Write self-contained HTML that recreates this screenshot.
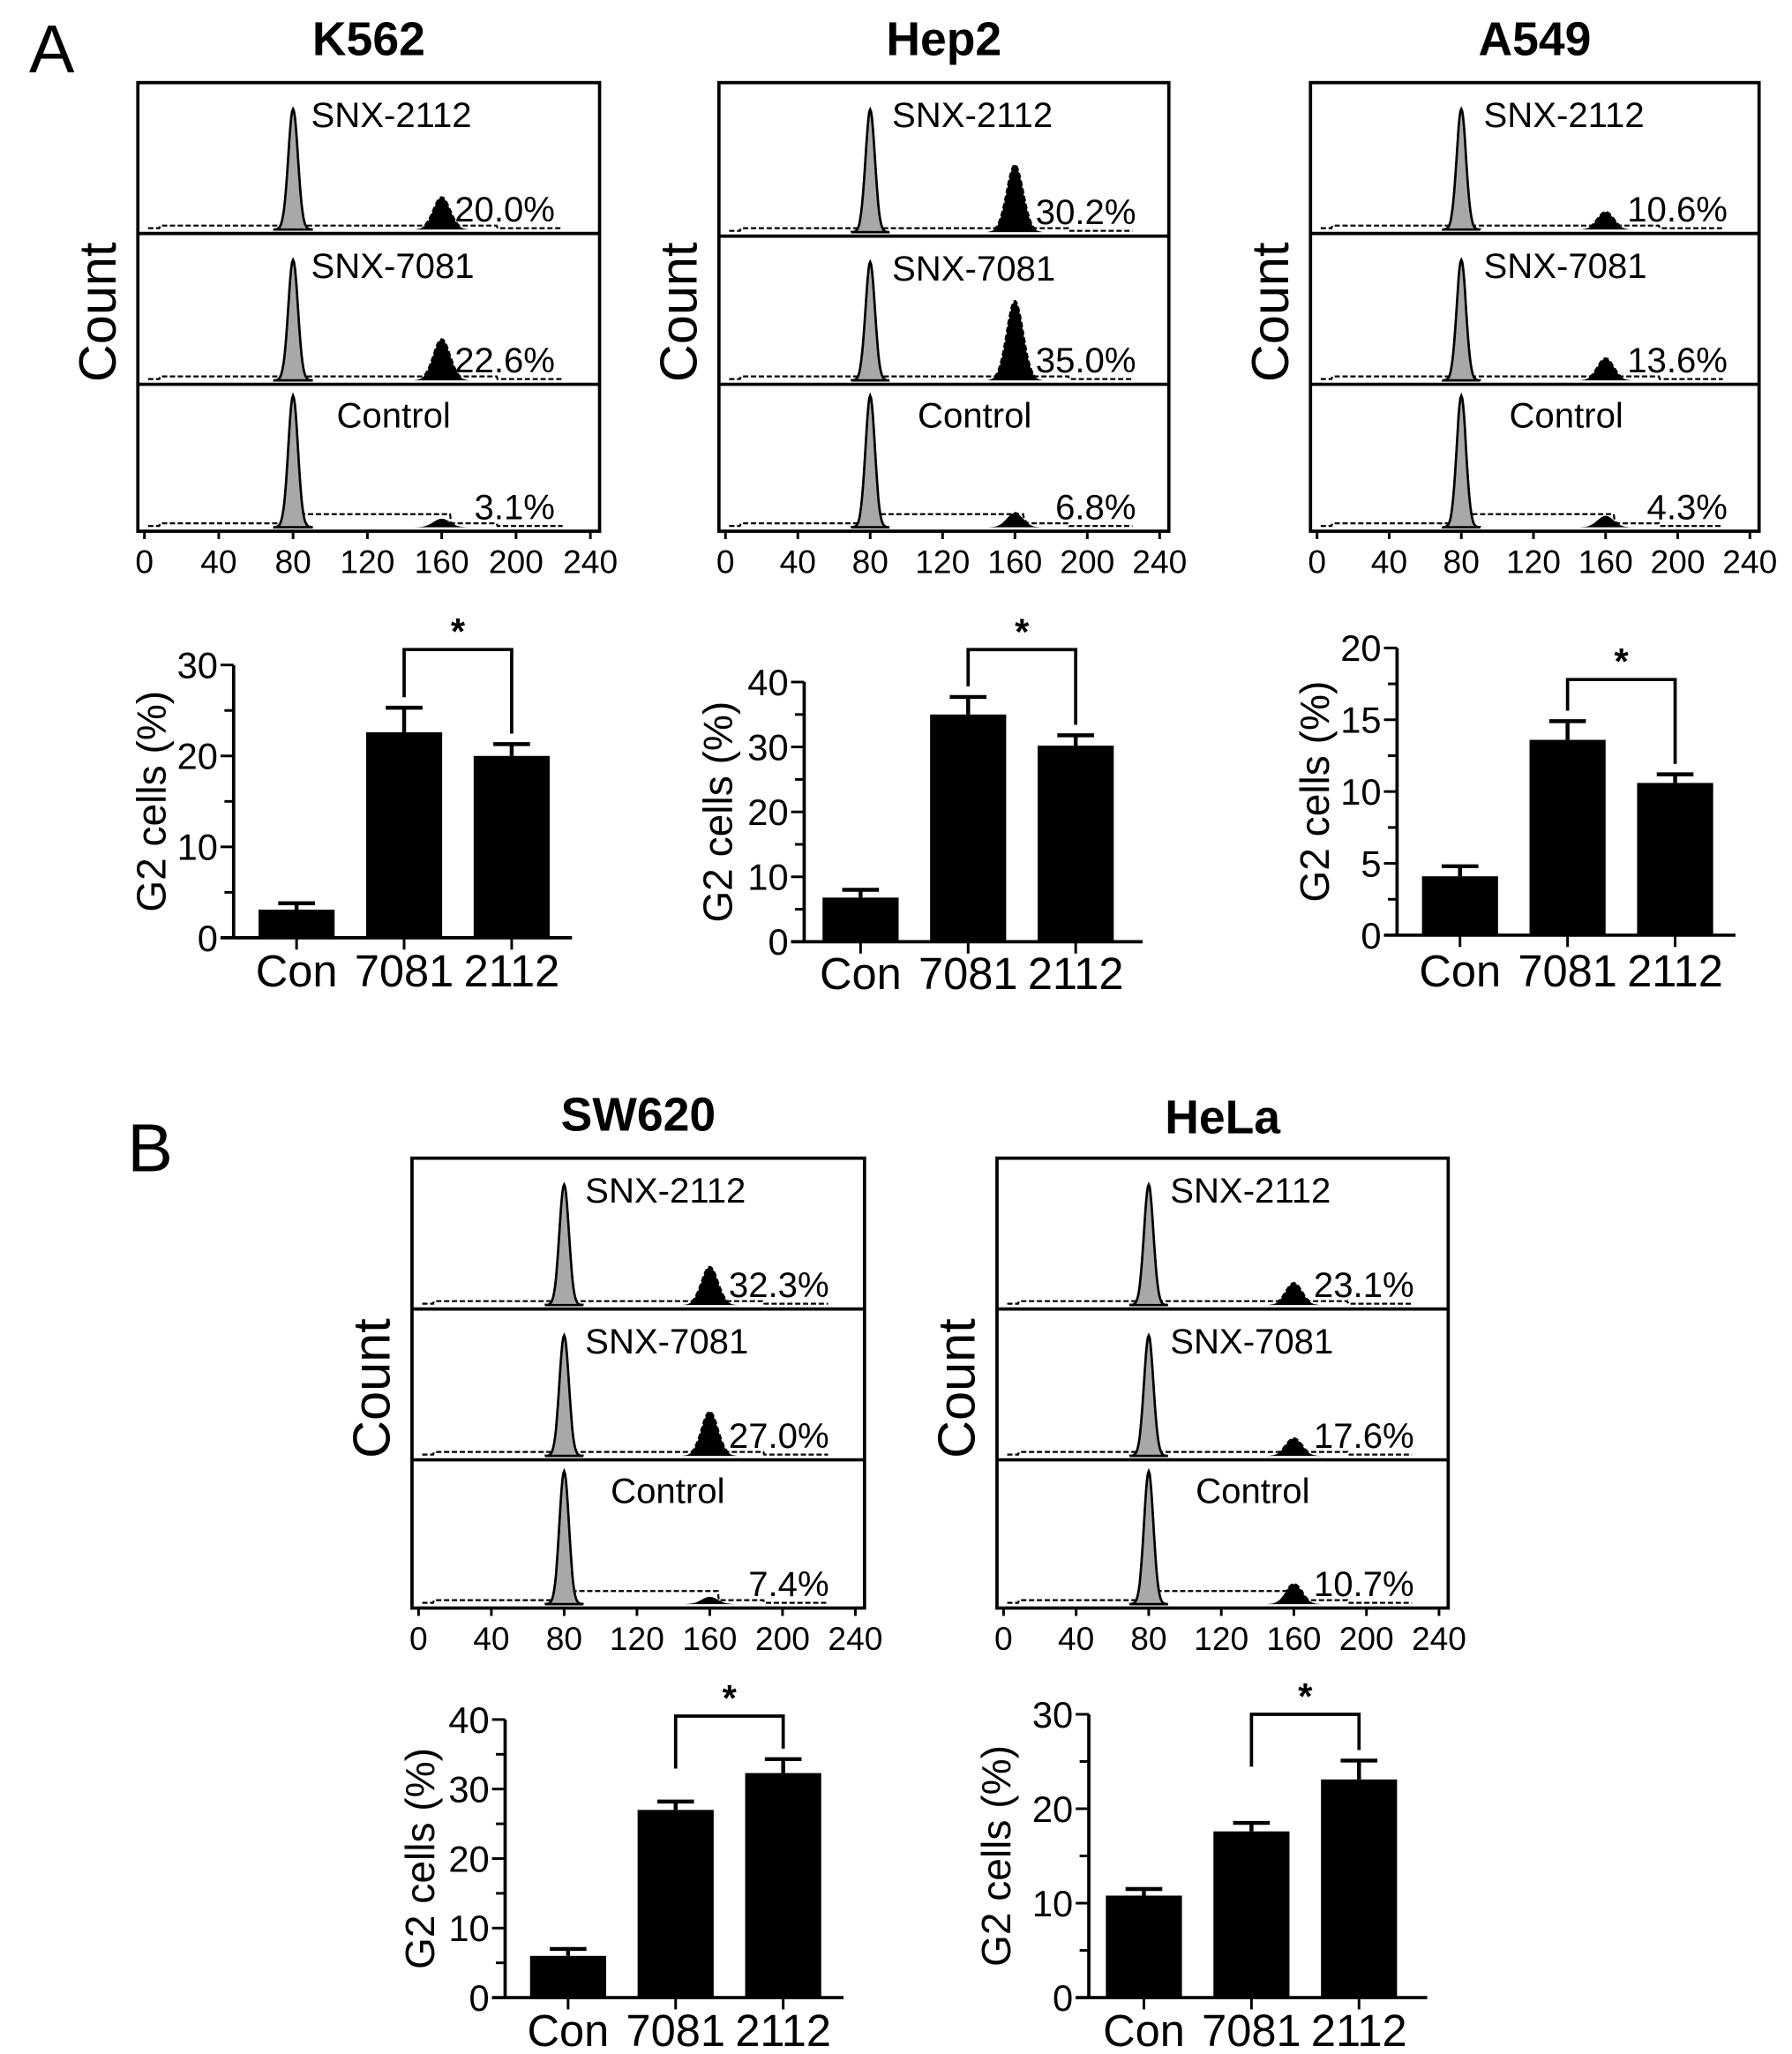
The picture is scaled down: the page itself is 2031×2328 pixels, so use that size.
<!DOCTYPE html>
<html><head><meta charset="utf-8"><style>
html,body{margin:0;padding:0;background:#fff}
svg{display:block}
text{font-family:"Liberation Sans",Arial,sans-serif;fill:#000}
</style></head><body>
<svg id="fig" width="2031" height="2328" viewBox="0 0 1366 1566" xmlns="http://www.w3.org/2000/svg">
<text x="22" y="55" font-size="52">A</text>
<text x="97" y="893" font-size="52">B</text>
</svg>
<script>
// ---- flow histogram data ----
const flowTitles = ["K562","Hep2","A549","SW620","HeLa"];
const flowTreatments = ["SNX-2112","SNX-7081","Control"];
const flowPercents = [["20.0%","22.6%","3.1%"],["30.2%","35.0%","6.8%"],["10.6%","13.6%","4.3%"],["32.3%","27.0%","7.4%"],["23.1%","17.6%","10.7%"]];
const flowG2Heights = [[0.22,0.28,0.06],[0.45,0.55,0.1],[0.12,0.15,0.08],[0.26,0.3,0.05],[0.15,0.12,0.14]];
const flowTicks = [0,40,80,120,160,200,240];
// ---- bar chart data ----
const barCategories = ["Con","7081","2112"];
const barValues = [[3.1,22.6,20.0],[6.8,35.0,30.2],[4.1,13.6,10.6],[6.0,27.0,32.3],[10.8,17.6,23.1]];
const barErrors = [[0.7,2.7,1.3],[1.2,2.7,1.6],[0.7,1.3,0.6],[1.0,1.2,2.0],[0.7,0.9,2.0]];
const barYMax = [30,40,20,40,30];
const barYStep = [10,10,5,10,10];
const bracketValues = [31.7,45.0,17.8,40.5,30.0];

const NS="http://www.w3.org/2000/svg";
const svg=document.getElementById('fig');
function mk(tag,attrs,parent,txt){const e=document.createElementNS(NS,tag);for(const k in attrs)e.setAttribute(k,attrs[k]);if(txt!==undefined)e.textContent=txt;(parent||svg).appendChild(e);return e;}

// layout (not data)
const flowLayout=[
 {l:105,r:457,t:63,b:405,d:[178,293],ty:42},
 {l:548,r:891,t:63,b:405,d:[180,293],ty:42},
 {l:999,r:1341,t:63,b:405,d:[178,293],ty:42},
 {l:314,r:659,t:883,b:1226,d:[998,1113],ty:862},
 {l:760,r:1104,t:883,b:1226,d:[998,1113],ty:864}
];
const barLayout=[
 {ax:178,y0:715,yt:507,ly:752,yl:126,off:48},
 {ax:613,y0:718,yt:520,ly:754,yl:558,off:43},
 {ax:1065,y0:713,yt:494,ly:752,yl:1013,off:48},
 {ax:385,y0:1523,yt:1311,ly:1560,yl:331,off:48},
 {ax:830,y0:1523,yt:1307,ly:1560,yl:770,off:42}
];

flowLayout.forEach((L,i)=>{
  const g=mk('g',{},svg);
  
  
  const t=mk('text',{x:(L.l+L.r)/2,y:L.ty,'font-size':36,'font-weight':'bold','text-anchor':'middle'},g,flowTitles[i]);
  
  
  const xs=v=>L.l+5+(v/240)*(L.r-L.l-12);
  const tops=[L.t,L.d[0],L.d[1]], bots=[L.d[0],L.d[1],L.b];
  for(let s=0;s<3;s++){
    const top=tops[s], bot=bots[s]-3, h=bot-top;
    const g1h=(s==2?0.92:0.82)*h, g2h=flowG2Heights[i][s]*h;
    let pts=[],g1=[],g2=[];
    for(let v=2;v<=225;v+=0.5){
      const a=g1h*Math.exp(-((v-80)**2)/(2*2.6*2.6));
      const b=g2h*Math.exp(-((v-160)**2)/(2*4.5*4.5));
      const base=(v>8&&v<190)?(s==2&&v>85&&v<165?10:3):1;
      pts.push([xs(v),bot-Math.max(a,b,base)]);
      if(v>=70&&v<=90)g1.push([xs(v),bot-a]);
      if(v>=145&&v<=175)g2.push([xs(v),bot-b]);
    }
    const poly=p=>p.map(q=>q[0].toFixed(1)+','+q[1].toFixed(1)).join(' ');
    const p1=mk('polygon',{points:poly(g1)+' '+xs(90)+','+bot+' '+xs(70)+','+bot,fill:'#a8a8a8',stroke:'#000','stroke-width':1.8},g);
    
    
    const p2=mk('polygon',{points:poly(g2)+' '+xs(175)+','+bot+' '+xs(145)+','+bot,fill:'#000'},g);
    
    
    const ln=mk('polyline',{points:poly(pts),fill:'none',stroke:'#000','stroke-width':1.5,'stroke-dasharray':'4 2'},g);
    
    
    const lab=s==2?mk('text',{x:L.l+195,y:top+33,'font-size':27,'text-anchor':'middle'},g,flowTreatments[s]):mk('text',{x:L.l+132,y:top+34,'font-size':27},g,flowTreatments[s]);
    
    
    const pc=mk('text',{x:L.l+318,y:bot-6,'font-size':27,'text-anchor':'end'},g,flowPercents[i][s]);
    
    
  }
  const bx=mk('rect',{x:L.l,y:L.t,width:L.r-L.l,height:L.b-L.t,fill:'none',stroke:'#000','stroke-width':2.5},g);
  
  
  L.d.forEach(y=>mk('line',{x1:L.l,x2:L.r,y1:y,y2:y,stroke:'#000','stroke-width':2.5},g));
  flowTicks.forEach(v=>{
    mk('line',{x1:xs(v),x2:xs(v),y1:L.b,y2:L.b+6,stroke:'#000','stroke-width':2},g);
    const tl=mk('text',{x:xs(v),y:L.b+32,'font-size':25,'text-anchor':'middle'},g,v);
    
    
  });
  const cy=(L.t+L.b)/2+4;
  const ct=mk('text',{x:L.l-17,y:cy,'font-size':40,'text-anchor':'middle',transform:`rotate(-90 ${L.l-17} ${cy})`},g,'Count');
  
  
});

barLayout.forEach((L,i)=>{
  const g=mk('g',{},svg);
  
  
  const ys=v=>L.y0-(v/barYMax[i])*(L.y0-L.yt);
  const xc=k=>L.ax+L.off+k*82;
  mk('line',{x1:L.ax,x2:L.ax,y1:L.yt,y2:L.y0,stroke:'#000','stroke-width':2.5},g);
  mk('line',{x1:L.ax-10,x2:L.ax+258,y1:L.y0,y2:L.y0,stroke:'#000','stroke-width':2.5},g);
  for(let v=0;v<=barYMax[i]+1e-9;v+=barYStep[i]/2){
    const major=Math.abs(v/barYStep[i]-Math.round(v/barYStep[i]))<1e-6;
    mk('line',{x1:L.ax-(major?10:7),x2:L.ax,y1:ys(v),y2:ys(v),stroke:'#000','stroke-width':2},g);
    if(major){const t=mk('text',{x:L.ax-12,y:ys(v)+10,'font-size':28,'text-anchor':'end'},g,v);
      
      }
  }
  barCategories.forEach((c,k)=>{
    const v=barValues[i][k],e=barErrors[i][k];
    mk('line',{x1:xc(k),x2:xc(k),y1:ys(v),y2:ys(v+e),stroke:'#000','stroke-width':3},g);
    mk('line',{x1:xc(k)-14,x2:xc(k)+14,y1:ys(v+e),y2:ys(v+e),stroke:'#000','stroke-width':3},g);
    const r=mk('rect',{x:xc(k)-29,y:ys(v),width:58,height:L.y0-ys(v),fill:'#000'},g);
    
    
    mk('line',{x1:xc(k),x2:xc(k),y1:L.y0,y2:L.y0+9,stroke:'#000','stroke-width':2},g);
    const t=mk('text',{x:xc(k),y:L.ly,'font-size':34,'text-anchor':'middle'},g,c);
    
    
  });
  const by=ys(bracketValues[i]);
  const le=Math.min(ys(barValues[i][1]+barErrors[i][1])-8,by+40), re=ys(barValues[i][2]+barErrors[i][2])-8;
  const br=mk('polyline',{points:`${xc(1)},${le} ${xc(1)},${by} ${xc(2)},${by} ${xc(2)},${re}`,fill:'none',stroke:'#000','stroke-width':2.5},g);
  
  
  const st=mk('text',{x:(xc(1)+xc(2))/2,y:by-4,'font-size':28,'font-weight':'bold','text-anchor':'middle'},g,'*');
  
  
  const cy=(L.yt+L.y0)/2;
  const yl=mk('text',{x:L.yl,y:cy,'font-size':31,'text-anchor':'middle',transform:`rotate(-90 ${L.yl} ${cy})`},g,'G2 cells (%)');
  
  
});
</script>
</body></html>
